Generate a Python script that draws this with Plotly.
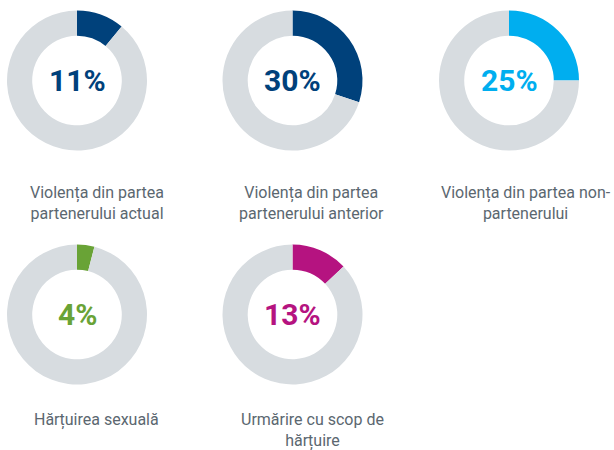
import plotly.graph_objects as go

categories = [
    "Violența din partea<br>partenerului actual",
    "Violența din partea<br>partenerului anterior",
    "Violența din partea non-<br>partenerului",
    "Hărțuirea sexuală",
    "Urmărire cu scop de<br>hărțuire",
]
percent_values = [11, 30, 25, 4, 13]
slice_colors = ["#00417b", "#00417b", "#00aeef", "#69a336", "#b51380"]
ring_color = "#d7dce0"
label_color = "#5b6770"

W, H = 614, 450
R = 70
centers = [(77, 80.5), (292.5, 80.5), (509, 80.5), (77, 314.5), (292.5, 314.5)]
label_x = [97, 311.5, 526, 97, 312]
label_top = [182, 182, 182, 409, 409]

FONT = "Roboto, Liberation Sans, Arial"

fig = go.Figure()
annotations = []
for i, (cat, v) in enumerate(zip(categories, percent_values)):
    cx, cy = centers[i]
    fig.add_trace(go.Pie(
        values=[v, 100 - v],
        labels=["a", "b"],
        marker=dict(colors=[slice_colors[i], ring_color], line=dict(width=0)),
        hole=0.64,
        sort=False,
        direction="clockwise",
        rotation=0,
        textinfo="none",
        hoverinfo="skip",
        showlegend=False,
        domain=dict(x=[(cx - R) / W, (cx + R) / W], y=[1 - (cy + R) / H, 1 - (cy - R) / H]),
    ))
    annotations.append(dict(
        x=cx / W, y=1 - cy / H, xref="paper", yref="paper",
        text=f"<b>{v}%</b>", showarrow=False,
        font=dict(family=FONT, size=30, color=slice_colors[i]),
        xanchor="center", yanchor="middle",
    ))
    annotations.append(dict(
        x=label_x[i] / W, y=1 - label_top[i] / H, xref="paper", yref="paper",
        text=cat, showarrow=False, align="center", borderpad=0,
        font=dict(family=FONT, size=16, color=label_color),
        xanchor="center", yanchor="top",
    ))

fig.update_layout(
    width=W, height=H,
    margin=dict(l=0, r=0, t=0, b=0),
    paper_bgcolor="white", plot_bgcolor="white",
    annotations=annotations,
)
fig.write_html("out.html", config={"displayModeBar": False},
               post_script="document.body.style.margin='0';document.body.style.overflow='hidden';")
